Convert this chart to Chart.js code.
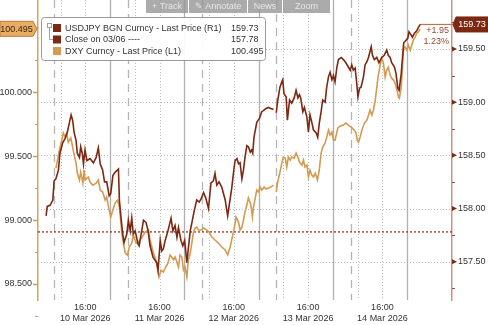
<!DOCTYPE html>
<html>
<head>
<meta charset="utf-8">
<script src="https://cdn.jsdelivr.net/npm/chart.js@4.4.1/dist/chart.umd.min.js"></script>
<style>
  html, body { margin: 0; padding: 0; background: #fff; }
  #wrap { width: 488px; height: 325px; }
</style>
</head>
<body>
<div id="wrap"><canvas id="chart" width="488" height="325"></canvas></div>
<script>
/* USDJPY vs DXY, Bloomberg style, 10-14 Mar 2026 */

// hours since 10 Mar 2026 00:00
const USDJPY_HOURS = [
  3.3, 3.7, 4.6, 5.5, 5.9, 6.5, 7.3, 7.8, 8.7, 9.5, 10.2, 10.8, 11.4, 11.9, 12.4, 13.0, 13.4, 14.1, 14.5, 15.0,
  15.4, 15.9, 16.5, 17.5, 18.6, 19.5, 20.2, 20.8, 21.6, 22.2, 22.9, 23.7, 24.2, 24.9, 25.6, 26.7, 27.0, 27.5, 28.1, 28.5,
  29.4, 29.9, 30.5, 31.0, 31.5, 32.1, 33.0, 33.4, 34.8, 35.6, 36.3, 36.9, 37.9, 39.1, 39.5, 40.2, 40.7, 41.2, 41.8, 42.7,
  43.7, 44.3, 45.0, 45.6, 46.1, 46.9, 47.5, 48.1, 48.8, 49.3, 49.9, 50.6, 51.2, 52.0, 52.8, 53.4, 54.2, 54.9, 55.8, 56.6,
  57.4, 57.9, 58.5, 59.2, 60.1, 61.2, 62.0, 62.6, 63.3, 64.1, 64.4, 65.0, 65.5, 66.0, 66.6, 67.1, 67.6, 68.2, 68.7, 69.3,
  69.7, 70.1, 70.5, 71.4, 72.3, 73.0, 73.5, 74.4, 75.2, 75.9, 76.8, 77.2, 77.7, 78.2, 78.9, 79.5, 79.8, 80.2, 80.9, 81.3,
  82.0, 82.7, 83.5, 84.1, 84.7, 85.2, 85.6, 86.3, 86.8, 87.6, 88.1, 88.6, 89.2, 89.7, 90.6, 91.1, 91.6, 92.2, 92.7, 93.5,
  94.0, 94.6, 95.1, 95.7, 96.2, 96.7, 97.3, 97.8, 98.7, 99.4, 100.2, 101.0, 101.6, 102.1, 102.6, 103.2, 103.7, 104.1, 104.6, 105.1,
  105.9, 106.4, 107.0, 107.5, 108.4, 108.8, 109.4, 110.2, 110.9, 111.8, 112.6, 113.4, 113.9, 114.5, 115.0, 115.9, 116.4, 117.0, 117.4, 118.1,
  118.5, 118.9, 119.3, 120.2, 120.6, 121.3, 121.7, 122.4, 123.1, 123.6, 124.2
];
const USDJPY_PRICES = [
  157.93, 158.02, 158.03, 158.08, 158.26, 158.28, 158.36, 158.52, 158.62, 158.66, 158.72, 158.80, 158.88, 158.83, 158.71, 158.64, 158.52, 158.48, 158.58, 158.52,
  158.42, 158.55, 158.45, 158.47, 158.43, 158.48, 158.57, 158.42, 158.36, 158.25, 158.25, 158.12, 158.14, 158.31, 158.34, 158.37, 158.08, 157.92, 157.76, 157.68,
  157.76, 157.89, 157.79, 157.91, 157.76, 157.79, 157.67, 157.65, 157.89, 157.87, 157.79, 157.65, 157.54, 157.49, 157.42, 157.70, 157.60, 157.62, 157.70, 157.79,
  157.91, 157.79, 157.84, 157.73, 157.82, 157.70, 157.65, 157.70, 157.49, 157.63, 157.79, 157.89, 157.98, 158.08, 158.06, 158.09, 158.15, 158.10, 158.00, 158.24,
  158.26, 158.33, 158.22, 158.25, 158.20, 158.08, 157.93, 158.05, 158.19, 158.39, 158.45, 158.47, 158.42, 158.43, 158.28, 158.36, 158.48, 158.59, 158.58, 158.53,
  158.55, 158.52, 158.67, 158.81, 158.85, 158.91, 158.92, 158.94, 158.95, 158.94, 158.93, null, 158.90, 159.02, 159.14, 159.19, 159.21, 159.08, 159.05, 158.83,
  159.02, 158.99, 159.04, 159.11, 159.04, 159.07, 159.04, 158.91, 158.95, 158.86, 158.72, 158.88, 158.81, 158.74, 158.71, 158.67, 158.80, 158.91, 159.02, 159.00,
  159.14, 159.24, 159.28, 159.21, 159.25, 159.19, 159.33, 159.40, 159.42, 159.40, 159.37, 159.33, 159.30, 159.35, 159.30, 159.32, 159.18, 159.05, 159.13, 159.14,
  159.24, 159.35, 159.38, 159.42, 159.52, 159.44, 159.40, 159.42, 159.37, 159.42, 159.44, 159.49, 159.44, 159.42, 159.37, 159.33, 159.27, 159.13, 159.11, 159.27,
  159.42, 159.56, 159.57, 159.60, 159.66, 159.63, 159.61, 159.65, 159.67, 159.70, 159.73
];

const DXY_HOURS = [
  6.5, 7.0, 7.6, 8.4, 8.9, 9.5, 10.0, 10.5, 11.3, 11.9, 12.4, 13.0, 13.4, 14.1, 14.5, 15.2, 15.6, 15.9, 16.5, 17.0,
  17.5, 18.4, 19.5, 20.2, 20.8, 21.6, 22.4, 22.9, 23.5, 24.2, 24.9, 25.6, 26.4, 27.0, 27.5, 27.8, 28.3, 28.9, 29.6, 30.2,
  31.0, 31.5, 32.4, 33.1, 34.2, 35.3, 36.4, 36.9, 38.0, 38.8, 39.4, 39.8, 40.5, 41.2, 42.0, 42.7, 43.4, 43.9, 44.5, 45.0,
  45.6, 46.1, 46.6, 47.2, 47.7, 48.2, 48.8, 49.3, 49.9, 50.4, 50.9, 51.5, 52.0, 52.5, 53.4, 54.2, 55.3, 56.0, 56.9, 57.9,
  59.0, 60.1, 61.2, 62.0, 62.8, 63.5, 64.2, 64.7, 65.5, 66.0, 66.6, 67.1, 67.6, 68.2, 68.7, 69.3, 69.6, 70.0, 70.3, 70.9,
  71.4, 71.9, 72.5, 73.0, 73.8, 74.4, 75.2, 75.9, 76.8, 77.2, 77.7, 78.1, 78.7, 79.5, 80.0, 80.6, 81.1, 81.6, 82.2, 82.7,
  83.5, 84.1, 84.7, 85.2, 86.0, 86.5, 87.0, 87.6, 88.1, 88.6, 89.2, 89.7, 90.3, 91.0, 91.6, 92.2, 92.7, 93.5, 94.0, 94.6,
  95.1, 95.7, 96.2, 96.7, 97.6, 98.3, 99.4, 100.2, 101.0, 101.9, 102.6, 103.4, 103.9, 104.3, 104.8, 105.4, 106.2, 107.0, 107.5, 108.0,
  108.6, 109.1, 109.7, 110.2, 110.7, 111.3, 111.8, 112.3, 112.9, 113.4, 113.9, 114.5, 115.0, 115.6, 116.1, 116.7, 117.2, 117.5, 118.1, 118.5,
  118.9, 119.3, 119.9, 120.4, 121.0, 121.5, 122.0, 122.6, 123.1, 123.6, 124.2
];
const DXY_PRICES = [
  99.406, 99.469, 99.547, 99.625, 99.680, 99.648, 99.680, 99.609, 99.641, 99.570, 99.508, 99.445, 99.367, 99.313, 99.375, 99.289, 99.391, 99.313, 99.328, 99.336,
  99.297, 99.273, 99.289, 99.313, 99.234, 99.219, 99.156, 99.180, 99.102, 99.023, 99.078, 99.133, 99.156, 99.102, 98.977, 98.898, 98.820, 98.742, 98.727, 98.789,
  98.820, 98.883, 98.820, 98.828, 98.859, 98.906, 98.922, 98.844, 98.742, 98.688, 98.609, 98.555, 98.609, 98.594, 98.633, 98.664, 98.727, 98.711, 98.688, 98.711,
  98.672, 98.633, 98.727, 98.711, 98.609, 98.633, 98.555, 98.688, 98.742, 98.820, 98.898, 98.938, 98.945, 98.922, 98.922, 98.938, 98.922, 98.906, 98.867, 98.844,
  98.820, 98.789, 98.766, 98.727, 98.789, 98.867, 98.945, 99.023, 98.984, 98.922, 98.945, 99.000, 99.063, 99.117, 99.172, 99.133, 99.102, 99.023, 99.094, 99.172,
  99.234, 99.219, 99.258, 99.234, 99.258, 99.242, 99.250, 99.258, 99.273, null, 99.219, 99.289, 99.352, 99.445, 99.492, 99.484, 99.414, 99.492, 99.469, 99.492,
  99.484, 99.523, 99.492, 99.453, 99.430, 99.469, 99.414, 99.430, 99.336, 99.391, 99.352, 99.336, 99.367, 99.313, 99.391, 99.523, 99.570, 99.602, 99.648, 99.703,
  99.664, 99.688, 99.625, 99.625, 99.719, 99.734, 99.742, 99.758, 99.742, 99.727, 99.711, 99.688, 99.625, 99.609, 99.648, 99.703, 99.758, 99.781, 99.820, 99.859,
  99.820, 99.859, 99.938, 100.039, 100.133, 100.211, 100.266, 100.234, 100.117, 100.172, 100.195, 100.133, 100.109, 100.094, 100.070, 100.016, 99.961, 99.953, 100.039, 100.195,
  100.344, 100.352, 100.328, 100.367, 100.328, 100.367, 100.406, 100.430, 100.461, 100.469, 100.495
];

const PREV_CLOSE = 157.78;
const CHANGE_LABELS = ['+1.95', '1.23%'];
const DAY_LABELS = ['10 Mar 2026', '11 Mar 2026', '12 Mar 2026', '13 Mar 2026', '14 Mar 2026'];
const LABEL_HOURS = [16, 40, 64, 88, 112];
const DAY_BREAK_HOURS = [24, 48, 72, 96, 120];
const SESSION_HOURS = [5.75, 29.75, 53.75, 77.75, 101.75];
const DOTTED_HOURS = [8, 16, 32, 40, 56, 64, 80, 88, 104, 112];
const LEFT_TICKS = [98.5, 99, 99.5, 100];
const RIGHT_TICKS = [157.5, 158, 158.5, 159, 159.5];
const LEGEND_ROWS = [
  ['USDJPY BGN Curncy - Last Price (R1)', '159.73'],
  ['Close on 03/06 ----', '157.78'],
  ['DXY Curncy - Last Price (L1)', '100.495'],
];
const TOOLBAR = ['+ Track', '\u270E Annotate', 'News', 'Zoom'];

const X_MIN = 0.7, X_MAX = 134.5;
const JPY_COLOR = '#7c2812';
const DXY_COLOR = '#d39b52';
const CLOSE_COLOR = '#a0301c';
const FONT = 'Liberation Sans, Arial, sans-serif';
const TXT = '#333';

const toPoints = (xs, ys) => xs.map((h, i) => ({ x: h, y: ys[i] }));
const lastJpy = USDJPY_PRICES[USDJPY_PRICES.length - 1];
const lastDxy = DXY_PRICES[DXY_PRICES.length - 1];
const lastHour = USDJPY_HOURS[USDJPY_HOURS.length - 1];

function line(ctx, x1, y1, x2, y2, color, width, dash) {
  ctx.save();
  ctx.strokeStyle = color;
  ctx.lineWidth = width;
  ctx.setLineDash(dash || []);
  ctx.beginPath();
  ctx.moveTo(x1, y1);
  ctx.lineTo(x2, y2);
  ctx.stroke();
  ctx.restore();
}

function priceTag(ctx, tipX, y, boxX, boxW, fill, stroke, text, color, pointRight) {
  const h = 15;
  ctx.save();
  ctx.beginPath();
  if (pointRight) {
    ctx.moveTo(boxX, y - h / 2);
    ctx.lineTo(boxX + boxW, y - h / 2);
    ctx.lineTo(tipX, y);
    ctx.lineTo(boxX + boxW, y + h / 2);
    ctx.lineTo(boxX, y + h / 2);
  } else {
    ctx.moveTo(boxX + boxW, y - h / 2);
    ctx.lineTo(boxX, y - h / 2);
    ctx.lineTo(tipX, y);
    ctx.lineTo(boxX, y + h / 2);
    ctx.lineTo(boxX + boxW, y + h / 2);
  }
  ctx.closePath();
  ctx.fillStyle = fill;
  ctx.fill();
  ctx.strokeStyle = stroke;
  ctx.stroke();
  ctx.fillStyle = color;
  ctx.font = '9px ' + FONT;
  ctx.textAlign = 'center';
  ctx.textBaseline = 'middle';
  ctx.fillText(text, boxX + boxW / 2, y + 0.5);
  ctx.restore();
}

/* ── gridlines behind the series ── */
const gridPlugin = {
  id: 'bbgGrid',
  beforeDatasetsDraw(chart) {
    const { ctx, chartArea: a, scales: { x, yR } } = chart;
    RIGHT_TICKS.forEach(v => {
      const y = Math.round(yR.getPixelForValue(v)) + 0.5;
      line(ctx, a.left, y, a.right, y, '#bdbdbd', 1, [1, 2]);
    });
    DOTTED_HOURS.forEach(h => {
      const px = Math.round(x.getPixelForValue(h)) + 0.5;
      line(ctx, px, a.top, px, a.bottom, '#bdbdbd', 1, [1, 2]);
    });
    SESSION_HOURS.forEach(h => {
      const px = Math.round(x.getPixelForValue(h)) + 0.5;
      line(ctx, px, a.top, px, a.bottom, '#b4b4b4', 1.3, [8, 6]);
    });
    DAY_BREAK_HOURS.forEach(h => {
      const px = Math.round(x.getPixelForValue(h)) + 0.5;
      line(ctx, px, a.top, px, a.bottom, '#b0b0b0', 1.3);
    });
  },
};

/* ── tags, legend box, toolbar on top ── */
const overlayPlugin = {
  id: 'bbgOverlay',
  afterDraw(chart) {
    const { ctx, chartArea: a, scales: { yL, yR } } = chart;

    // axis tick marks
    [98.25, 98.75, 99.25, 99.75, 100.25, 100.5].forEach(v => {
      const y = Math.round(yL.getPixelForValue(v)) + 0.5;
      line(ctx, a.left - 3, y, a.left, y, DXY_COLOR, 1);
    });
    LEFT_TICKS.forEach(v => {
      const y = Math.round(yL.getPixelForValue(v)) + 0.5;
      line(ctx, a.left - 5, y, a.left, y, DXY_COLOR, 1.5);
    });
    [157.25, 157.75, 158.25, 158.75, 159.25, 159.75].forEach(v => {
      const y = Math.round(yR.getPixelForValue(v)) + 0.5;
      line(ctx, a.right, y, a.right + 3, y, '#9a5040', 1);
    });
    RIGHT_TICKS.forEach(v => {
      const y = yR.getPixelForValue(v);
      ctx.save();
      ctx.fillStyle = JPY_COLOR;
      ctx.beginPath();
      ctx.moveTo(a.right, y - 2.5);
      ctx.lineTo(a.right + 5, y);
      ctx.lineTo(a.right, y + 2.5);
      ctx.closePath();
      ctx.fill();
      ctx.restore();
    });

    // last price tags
    priceTag(ctx, a.left - 1, yL.getPixelForValue(lastDxy), 0, 33, '#e6ad63', '#b87a38', '100.495', '#3a2410', true);
    priceTag(ctx, a.right + 1, yR.getPixelForValue(lastJpy), 456, 32, JPY_COLOR, JPY_COLOR, lastJpy.toFixed(2), '#fff', false);

    // change vs close
    ctx.save();
    ctx.font = '9px ' + FONT;
    ctx.fillStyle = '#9a4a30';
    ctx.textAlign = 'right';
    ctx.textBaseline = 'middle';
    ctx.fillText(CHANGE_LABELS[0], 449, 31);
    ctx.fillText(CHANGE_LABELS[1], 449, 42);
    ctx.restore();

    // legend box
    ctx.save();
    ctx.beginPath();
    ctx.roundRect(41.5, 17.5, 224, 43, 3);
    ctx.fillStyle = 'rgba(255,255,255,0.93)';
    ctx.fill();
    ctx.strokeStyle = '#9a9a9a';
    ctx.stroke();
    ctx.clip();
    ctx.strokeStyle = '#a0a0a0';
    ctx.lineWidth = 1;
    ctx.strokeRect(47.5, 23.5, 4, 4);
    line(ctx, 49.5, 28, 49.5, 39.5, '#a0a0a0', 1);
    line(ctx, 49.5, 39.5, 53, 39.5, '#a0a0a0', 1);
    const rowY = [28, 39.5, 51];
    const colors = [JPY_COLOR, JPY_COLOR, DXY_COLOR];
    ctx.font = '9px ' + FONT;
    ctx.textBaseline = 'middle';
    LEGEND_ROWS.forEach(([label, val], i) => {
      ctx.fillStyle = colors[i];
      ctx.fillRect(53, rowY[i] - 4, 8, 8);
      ctx.fillStyle = TXT;
      ctx.fillText(label, 65, rowY[i] + 0.5);
      ctx.fillText(val, 231, rowY[i] + 0.5);
    });
    ctx.restore();

    // toolbar
    const segs = [[146, 42], [189, 58], [248, 34], [283, 47]];
    ctx.save();
    ctx.font = '9px ' + FONT;
    ctx.textAlign = 'center';
    ctx.textBaseline = 'middle';
    segs.forEach(([sx, sw], i) => {
      ctx.fillStyle = 'rgba(150,150,150,0.8)';
      ctx.fillRect(sx, 0, sw, 13);
      ctx.fillStyle = '#e6e6e6';
      ctx.fillText(TOOLBAR[i], sx + sw / 2, 7);
    });
    ctx.restore();
  },
};

const tickFont = { family: FONT, size: 9 };

new Chart(document.getElementById('chart'), {
  type: 'line',
  data: {
    datasets: [
      {
        label: 'USDJPY BGN Curncy - Last Price (R1)',
        data: toPoints(USDJPY_HOURS, USDJPY_PRICES),
        yAxisID: 'yR',
        borderColor: JPY_COLOR,
        borderWidth: 1.6,
        pointRadius: 0,
        tension: 0,
        spanGaps: false,
      },
      {
        label: 'last',
        data: [{ x: lastHour, y: lastJpy }, { x: X_MAX, y: lastJpy }],
        yAxisID: 'yR',
        borderColor: '#b8754e',
        borderWidth: 1.2,
        pointRadius: 0,
      },
      {
        label: 'DXY Curncy - Last Price (L1)',
        data: toPoints(DXY_HOURS, DXY_PRICES),
        yAxisID: 'yL',
        borderColor: DXY_COLOR,
        borderWidth: 1.6,
        pointRadius: 0,
        tension: 0,
        spanGaps: false,
      },
      {
        label: 'Close on 03/06',
        data: [{ x: X_MIN, y: PREV_CLOSE }, { x: X_MAX, y: PREV_CLOSE }],
        yAxisID: 'yR',
        borderColor: CLOSE_COLOR,
        borderWidth: 1.3,
        borderDash: [2, 2],
        pointRadius: 0,
      },
    ],
  },
  options: {
    responsive: false,
    animation: false,
    devicePixelRatio: 1,
    layout: { padding: 0 },
    plugins: { legend: { display: false }, tooltip: { enabled: false } },
    scales: {
      x: {
        type: 'linear',
        min: X_MIN,
        max: X_MAX,
        grid: { display: false, drawTicks: false },
        border: { display: false },
        afterBuildTicks: s => { s.ticks = LABEL_HOURS.map(v => ({ value: v })); },
        afterFit: s => { s.height = 25; s.paddingLeft = 0; s.paddingRight = 0; },
        ticks: {
          autoSkip: false,
          maxRotation: 0,
          padding: 2,
          color: TXT,
          font: { ...tickFont, lineHeight: 1.25 },
          callback: (v, i) => ['16:00', DAY_LABELS[i]],
        },
      },
      yL: {
        type: 'linear',
        position: 'left',
        min: 98.375,
        max: 100.72,
        grid: { display: false, drawTicks: false },
        border: { display: true, color: '#d8a45c', width: 1.5 },
        afterBuildTicks: s => { s.ticks = LEFT_TICKS.map(v => ({ value: v })); },
        afterFit: s => { s.width = 38; s.paddingTop = 0; s.paddingBottom = 0; },
        ticks: { padding: 6, color: TXT, font: tickFont, callback: v => v.toFixed(3) },
      },
      yR: {
        type: 'linear',
        position: 'right',
        min: 157.14,
        max: 159.96,
        grid: { display: false, drawTicks: false },
        border: { display: true, color: '#c99585', width: 1.5 },
        afterBuildTicks: s => { s.ticks = RIGHT_TICKS.map(v => ({ value: v })); },
        afterFit: s => { s.width = 36; s.paddingTop = 0; s.paddingBottom = 0; },
        ticks: { padding: 6, color: TXT, font: tickFont, callback: v => v.toFixed(2) },
      },
    },
  },
  plugins: [gridPlugin, overlayPlugin],
});
</script>
</body>
</html>
